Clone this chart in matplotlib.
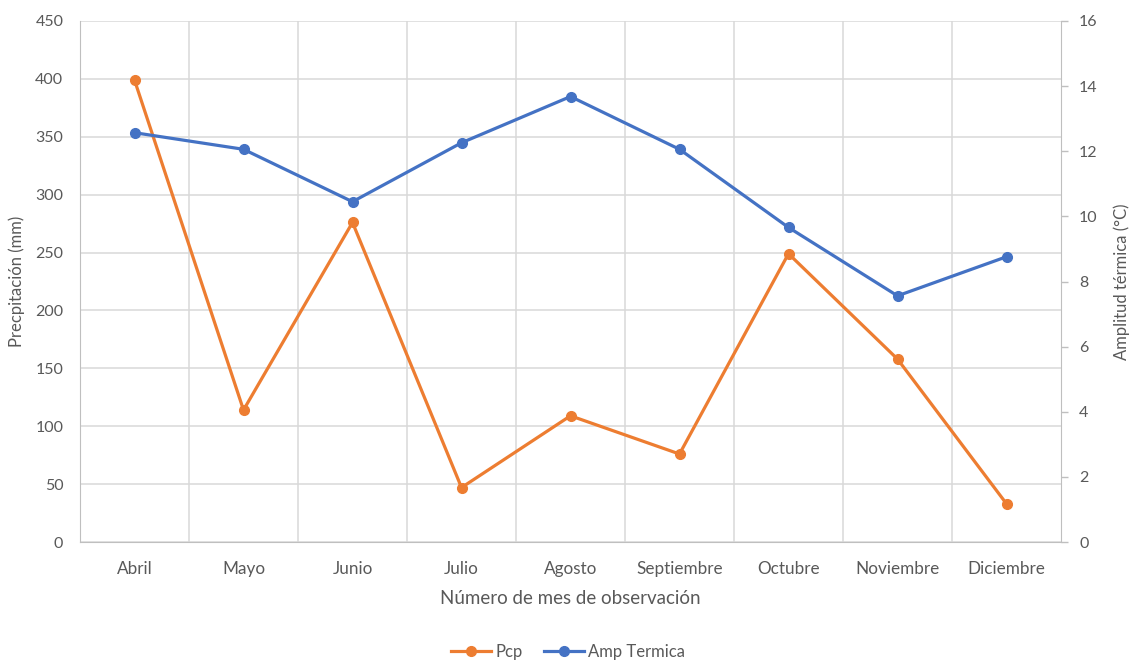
import matplotlib
matplotlib.use("Agg")
import matplotlib.pyplot as plt
from matplotlib.ticker import MultipleLocator

plt.rcParams['font.family'] = ['Lato', 'DejaVu Sans']

meses = ["Abril", "Mayo", "Junio", "Julio", "Agosto", "Septiembre",
         "Octubre", "Noviembre", "Diciembre"]
pcp = [399, 114, 276, 47, 109, 76, 249, 158, 33]
amp_termica = [12.57, 12.06, 10.45, 12.26, 13.68, 12.06, 9.66, 7.56, 8.76]

naranja = "#ED7D31"
azul = "#4472C4"
texto = "#595959"
rejilla = "#D9D9D9"

W, H = 1129, 662
fig = plt.figure(figsize=(W / 100, H / 100), dpi=100)
ax = fig.add_axes([80 / W, (H - 542) / H, 981 / W, 521 / H])
ax2 = ax.twinx()

x = list(range(len(meses)))

# Precipitación en el eje principal
l1, = ax.plot(x, pcp, color=naranja, lw=2.3, marker="o", ms=7,
              label="Pcp", zorder=3)
# Amplitud térmica en el eje secundario (por encima)
l2, = ax2.plot(x, amp_termica, color=azul, lw=2.3, marker="o", ms=7,
               label="Amp Termica", zorder=3)

ax.set_xlim(-0.5, len(meses) - 0.5)
ax.set_ylim(0, 450)
ax.yaxis.set_major_locator(MultipleLocator(50))
ax2.set_ylim(0, 16)
ax2.yaxis.set_major_locator(MultipleLocator(2))

# Rejilla: horizontal en las marcas principales, vertical entre categorías
ax.grid(axis="y", color=rejilla, lw=1.1)
for b in range(1, len(meses)):
    ax.axvline(b - 0.5, color=rejilla, lw=1.1, zorder=0)
ax.set_axisbelow(True)

ax.set_xticks(x)
ax.set_xticklabels(meses)

for a in (ax, ax2):
    for s in a.spines.values():
        s.set_visible(False)
ax.spines["left"].set_visible(True)
ax.spines["bottom"].set_visible(True)
ax.spines["left"].set_color("#BFBFBF")
ax.spines["bottom"].set_color("#BFBFBF")
ax2.spines["right"].set_visible(True)
ax2.spines["right"].set_color("#BFBFBF")

ax.tick_params(axis="y", length=0, pad=12, labelsize=11.5, labelcolor=texto)
ax.tick_params(axis="x", length=0, pad=14, labelsize=12.3, labelcolor=texto)
ax2.tick_params(axis="y", length=5, width=1, color="#BFBFBF", pad=8,
                labelsize=11.5, labelcolor=texto)

ax.set_xlabel("Número de mes de observación", fontsize=13.5, color=texto,
              labelpad=9)
ax.set_ylabel("Precpitación (mm)", fontsize=12, color=texto, labelpad=7)
ax2.set_ylabel("Amplitud térmica (°C)", fontsize=12, color=texto,
               labelpad=11)

leg = fig.legend(handles=[l1, l2], loc="center", bbox_to_anchor=(568 / W, 1 - 652 / H),
                 ncol=2, frameon=False, fontsize=12, handlelength=2.4,
                 columnspacing=1.3, handletextpad=0.25)
for t in leg.get_texts():
    t.set_color(texto)

fig.savefig("out.png", dpi=100)
